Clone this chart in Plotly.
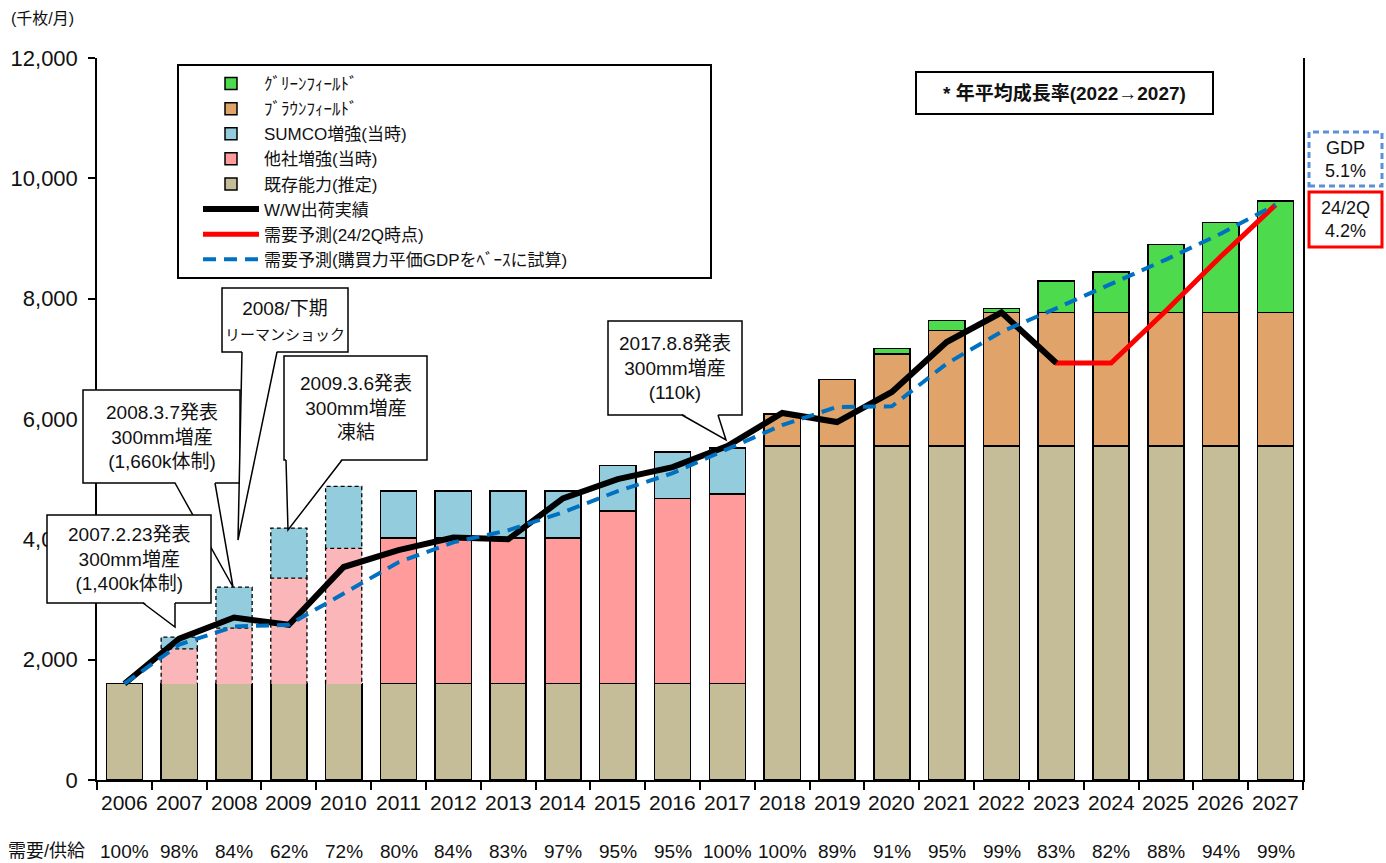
import plotly.graph_objects as go

# ---- data ---------------------------------------------------------------
years = list(range(2006, 2028))

existing_capacity = [1600] * 12 + [5550] * 10
other_expansion = [None, 580, 925, 1755, 2250, 2420, 2420, 2420, 2420, 2870, 3080, 3150] + [None] * 10
sumco_expansion = [None, 195, 680, 830, 1030, 780, 780, 780, 780, 760, 770, 765] + [None] * 10
brownfield = [None] * 12 + [530, 1110, 1530, 1925, 2220, 2220, 2220, 2220, 2220, 2220]
greenfield = [None] * 14 + [90, 165, 70, 520, 670, 1130, 1500, 1850]

ship_years = list(range(2006, 2024))
shipments = [1600, 2350, 2700, 2580, 3540, 3820, 4030, 4000, 4680, 5000,
             5200, 5550, 6100, 5950, 6450, 7280, 7770, 6930]

fcst_years = list(range(2022, 2028))
forecast_24q2 = [7770, 6930, 6930, 7800, 8700, 9560]

gdp_forecast = [1600, 2250, 2550, 2580, 3100, 3620, 3950, 4150, 4450, 4800, 5100,
                5500, 5900, 6200, 6210, 6920, 7450, 7840, 8250, 8650, 9080, 9560]

demand_supply = ["100%", "98%", "84%", "62%", "72%", "80%", "84%", "83%", "97%", "95%", "95%",
                 "100%", "100%", "89%", "91%", "95%", "99%", "83%", "82%", "88%", "94%", "99%"]

# years announced at the time (drawn with dashed outlines)
tentative_years = [2007, 2008, 2009, 2010]

# ---- styling ------------------------------------------------------------
FONT = "Liberation Sans, Arial, Noto Sans CJK JP, sans-serif"
C_BEIGE = "#C4BD97"
C_PINK = "#FF9B9B"
C_PINK_LIGHT = "#FAB6B9"
C_BLUE = "#93CDDD"
C_BROWN = "#E0A46A"
C_GREEN = "#4DDA4D"
BAR_W = 0.66

L, R, T, B = 97, 1303, 58, 780


def px_x(X):
    return (X - L) / (R - L)


def px_y(Y):
    return (B - Y) / (B - T)


def split(values, keep):
    return [v if keep(y) else None for y, v in zip(years, values)]


def is_tent(y):
    return y in tentative_years


def not_tent(y):
    return y not in tentative_years


def label(x, y, text, size, xref="paper", bold=False):
    return dict(x=x, y=y, xref=xref, yref="paper", text=f"<b>{text}</b>" if bold else text,
                showarrow=False, xanchor="center", yanchor="middle",
                font=dict(family=FONT, size=size, color="#111"))


fig = go.Figure()
edge = dict(color="black", width=1.5)

fig.add_trace(go.Bar(x=years, y=existing_capacity, name="既存能力(推定)", legendrank=5,
                     marker=dict(color=C_BEIGE, line=edge), width=BAR_W))
fig.add_trace(go.Bar(x=years, y=split(other_expansion, is_tent), showlegend=False,
                     marker=dict(color=C_PINK_LIGHT, line=dict(width=0)), width=BAR_W))
fig.add_trace(go.Bar(x=years, y=split(other_expansion, not_tent), name="他社増強(当時)", legendrank=4,
                     marker=dict(color=C_PINK, line=edge), width=BAR_W))
fig.add_trace(go.Bar(x=years, y=split(sumco_expansion, is_tent), showlegend=False,
                     marker=dict(color=C_BLUE, line=dict(width=0)), width=BAR_W))
fig.add_trace(go.Bar(x=years, y=split(sumco_expansion, not_tent), name="SUMCO増強(当時)", legendrank=3,
                     marker=dict(color=C_BLUE, line=edge), width=BAR_W))
fig.add_trace(go.Bar(x=years, y=brownfield, name="ﾌﾞﾗｳﾝﾌｨｰﾙﾄﾞ", legendrank=2,
                     marker=dict(color=C_BROWN, line=edge), width=BAR_W))
fig.add_trace(go.Bar(x=years, y=greenfield, name="ｸﾞﾘｰﾝﾌｨｰﾙﾄﾞ", legendrank=1,
                     marker=dict(color=C_GREEN, line=edge), width=BAR_W))

# dashed outlines around the tentative expansion segments
ox, oy = [], []
half = BAR_W / 2
for y, base, oth, sum_ in zip(years, existing_capacity, other_expansion, sumco_expansion):
    if y not in tentative_years:
        continue
    lo = base
    for seg in (oth, sum_):
        hi = lo + seg
        ox += [y - half, y - half, y + half, y + half, None]
        oy += [lo, hi, hi, lo, None]
        lo = hi
fig.add_trace(go.Scatter(x=ox, y=oy, mode="lines", showlegend=False, hoverinfo="skip",
                         line=dict(color="black", width=1.3, dash="4px,3px")))

fig.add_trace(go.Scatter(x=fcst_years, y=forecast_24q2, mode="lines", name="需要予測(24/2Q時点)",
                         legendrank=7, line=dict(color="#FF0000", width=5)))
fig.add_trace(go.Scatter(x=ship_years, y=shipments, mode="lines", name="W/W出荷実績",
                         legendrank=6, line=dict(color="black", width=6)))
fig.add_trace(go.Scatter(x=years, y=gdp_forecast, mode="lines", name="需要予測(購買力平価GDPをﾍﾞｰｽに試算)",
                         legendrank=8, line=dict(color="#0070C0", width=4, dash="13px,8px")))

annotations = []
shapes = []

# year labels and demand/supply ratios under the axis
for y, pct in zip(years, demand_supply):
    annotations.append(label(y, px_y(802), str(y), 21, xref="x"))
    annotations.append(label(y, px_y(851), pct, 19, xref="x"))
annotations.append(label(px_x(46), px_y(851), "需要/供給", 18))
annotations.append(label(px_x(42), px_y(18), "(千枚/月)", 16))

# legend frame
shapes.append(dict(type="rect", xref="paper", yref="paper", x0=px_x(178), x1=px_x(711),
                   y0=px_y(278), y1=px_y(65), line=dict(color="black", width=2),
                   fillcolor="white", layer="below"))

# growth-rate title box
shapes.append(dict(type="rect", xref="paper", yref="paper", x0=px_x(916), x1=px_x(1213),
                   y0=px_y(114), y1=px_y(72), line=dict(color="black", width=2), fillcolor="white"))
annotations.append(label(px_x(1064), px_y(93), "* 年平均成長率(2022→2027)", 19, bold=True))

# CAGR boxes at the right
shapes.append(dict(type="rect", xref="paper", yref="paper", x0=px_x(1309), x1=px_x(1382),
                   y0=px_y(186), y1=px_y(132), line=dict(color="#5B8FD8", width=3, dash="6px,4px")))
annotations.append(label(px_x(1345), px_y(159), "GDP<br>5.1%", 18))
shapes.append(dict(type="rect", xref="paper", yref="paper", x0=px_x(1309), x1=px_x(1382),
                   y0=px_y(247), y1=px_y(192), line=dict(color="#FF0000", width=3)))
annotations.append(label(px_x(1345), px_y(220), "24/2Q<br>4.2%", 18))

# speech-bubble callouts
callouts = [
    ("2008.3.7発表<br>300mm増産<br>(1,660k体制)", (83, 390, 240, 483), (175, 215), (233, 587)),
    ("2007.2.23発表<br>300mm増産<br>(1,400k体制)", (47, 515, 211, 603), (143, 175), (175, 627)),
    ("2008/下期<br><span style='font-size:15px'>リーマンショック</span>", (222, 288, 348, 352), (242, 277), (238, 540)),
    ("2009.3.6発表<br>300mm増産<br>凍結", (284, 356, 427, 460), (286, 342), (288, 530)),
    ("2017.8.8発表<br>300mm増産<br>(110k)", (608, 321, 742, 415), (682, 718), (726, 440)),
]
for text, (x0, y0, x1, y1), (b0, b1), (tx, ty) in callouts:
    shapes.append(dict(type="rect", xref="paper", yref="paper", x0=px_x(x0), x1=px_x(x1),
                       y0=px_y(y1), y1=px_y(y0), line=dict(color="black", width=1.5),
                       fillcolor="white", layer="above"))
    tri = f"M {px_x(b0)} {px_y(y1 - 1.5)} L {px_x(tx)} {px_y(ty)} L {px_x(b1)} {px_y(y1 - 1.5)} Z"
    shapes.append(dict(type="path", xref="paper", yref="paper", path=tri, fillcolor="white",
                       line=dict(width=0), layer="above"))
    tail = f"M {px_x(b0)} {px_y(y1)} L {px_x(tx)} {px_y(ty)} L {px_x(b1)} {px_y(y1)}"
    shapes.append(dict(type="path", xref="paper", yref="paper", path=tail,
                       line=dict(color="black", width=1.5), layer="above"))
    annotations.append(label(px_x((x0 + x1) / 2), px_y((y0 + y1) / 2), text, 19))

fig.update_layout(
    width=1386, height=863,
    margin=dict(l=L, r=1386 - R, t=T, b=863 - B),
    paper_bgcolor="white", plot_bgcolor="white",
    barmode="stack",
    showlegend=True,
    legend=dict(x=px_x(198), y=px_y(66), xanchor="left", yanchor="top", traceorder="normal",
                bgcolor="rgba(0,0,0,0)", borderwidth=0, itemwidth=56, tracegroupgap=0,
                font=dict(family=FONT, size=17, color="#111")),
    xaxis=dict(range=[2005.5, 2027.5], showgrid=False, zeroline=False, showline=True,
               linecolor="black", linewidth=1.5, ticks="outside", ticklen=8, tickwidth=1.5,
               tickcolor="black", tickvals=[y - 0.5 for y in years] + [years[-1] + 0.5],
               showticklabels=False),
    yaxis=dict(range=[0, 12000], showgrid=False, zeroline=False, showline=True, mirror=True,
               linecolor="black", linewidth=1.5, ticks="outside", ticklen=7, tickwidth=1.5,
               tickcolor="black", tickvals=list(range(0, 12001, 2000)), tickformat=",",
               ticklabelstandoff=6,
               tickfont=dict(family=FONT, size=22, color="#111")),
    annotations=annotations,
    shapes=shapes,
)

fig.write_html("out.html")
